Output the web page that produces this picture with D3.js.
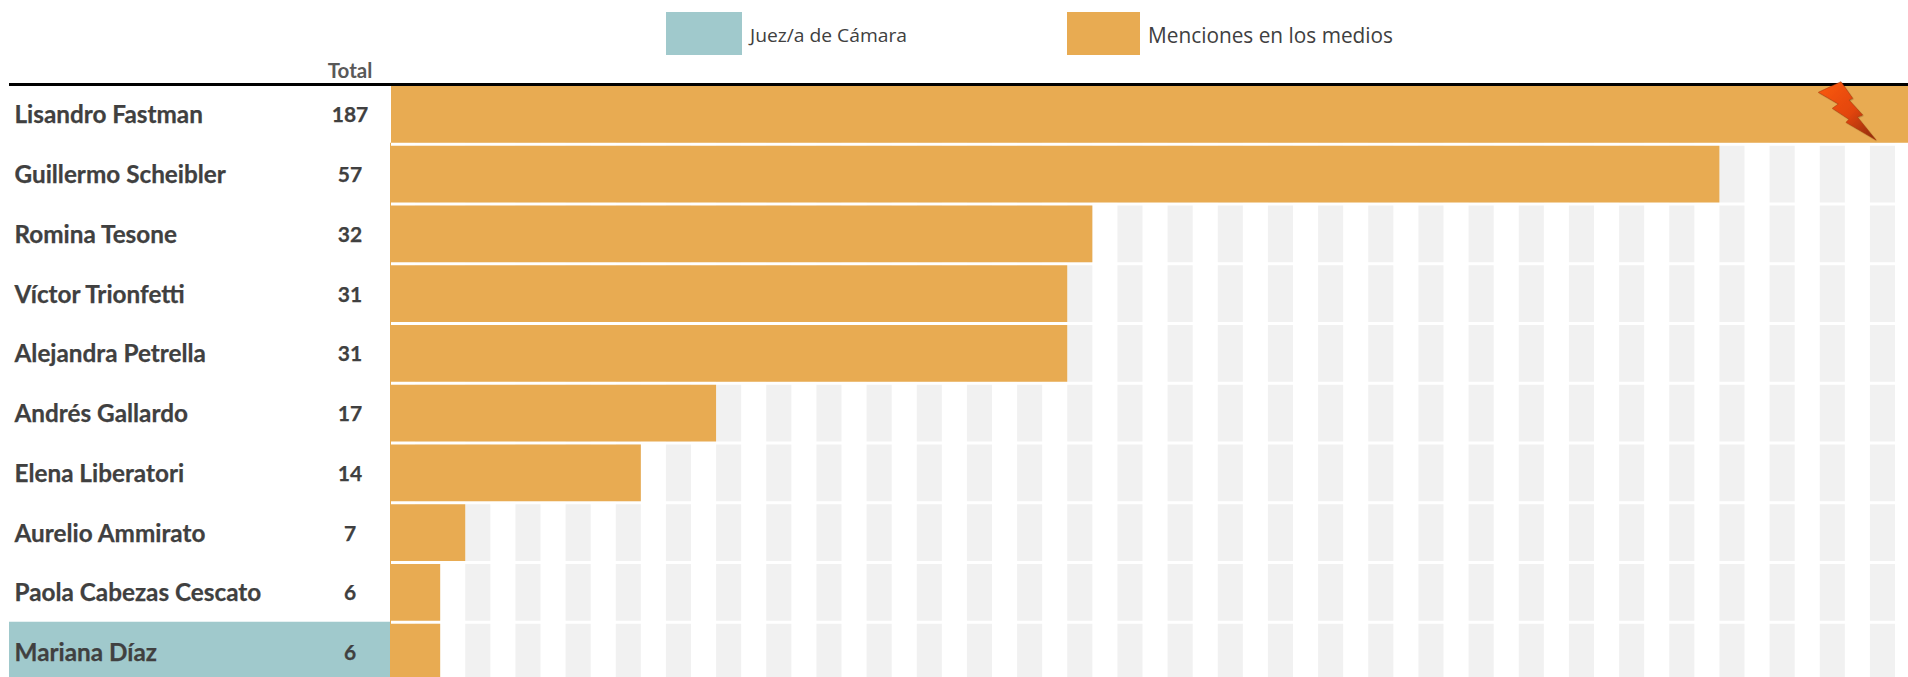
<!DOCTYPE html>
<html>
<head>
  <meta charset="utf-8">
  <title>Menciones en los medios</title>
  <script src="https://d3js.org/d3.v7.min.js"></script>
  <style>
    html, body { margin: 0; padding: 0; background: #fff; overflow: hidden; }
    svg { display: block; }
    .name { font-family: Lato, sans-serif; font-weight: 700; font-size: 24.3px; fill: #404040; stroke: #404040; stroke-width: 0.25px; }
    .total { font-family: Lato, sans-serif; font-weight: 700; font-size: 21px; fill: #404040; text-anchor: middle; stroke: #404040; stroke-width: 0.25px; }
    .totalHead { font-family: Lato, sans-serif; font-weight: 700; font-size: 20.5px; fill: #595959; text-anchor: middle; }
    .legendText { font-family: "Open Sans", sans-serif; fill: #404040; }
  </style>
</head>
<body>
  <svg id="chart" width="1908" height="677"></svg>
  <script>
    // values
    const names = ["Lisandro Fastman", "Guillermo Scheibler", "Romina Tesone", "Víctor Trionfetti",
                   "Alejandra Petrella", "Andrés Gallardo", "Elena Liberatori", "Aurelio Ammirato",
                   "Paola Cabezas Cescato", "Mariana Díaz"];
    const menciones = [187, 57, 32, 31, 31, 17, 14, 7, 6, 6];
    const camara = ["Mariana Díaz"];
    const legendLabels = ["Juez/a de Cámara", "Menciones en los medios"];

    const ORANGE = "#e8ab52", TEAL = "#a0c9cc", STRIPE = "#f1f1f1";

    const svg = d3.select("#chart");

    // axis is cut: it starts at 4 and the top bar runs off the page
    const x = d3.scaleLinear().domain([4, 64]).range([390, 1895]);
    const y = d3.scaleBand().domain(names).range([86, 680.5]).paddingInner(0.05);

    // the grey stripes, one for every odd value, in every row
    const stripeStarts = d3.range(5, 64, 2);
    const rows = svg.append("g").selectAll("g").data(names).join("g")
        .attr("transform", d => `translate(0,${y(d)})`);
    rows.selectAll("rect").data(stripeStarts).join("rect")
        .attr("x", d => x(d))
        .attr("width", d => x(d + 1) - x(d))
        .attr("height", y.bandwidth())
        .attr("fill", STRIPE);

    // highlight for the appeals judges
    svg.append("g").selectAll("rect").data(camara).join("rect")
        .attr("x", 9)
        .attr("y", d => y(d) - 2)
        .attr("width", x(4) - 9)
        .attr("height", y.bandwidth() + 2)
        .attr("fill", TEAL);

    // bars
    svg.append("g").selectAll("rect").data(names).join("rect")
        .attr("x", (d, i) => i == 0 ? x(4) + 1 : x(4))
        .attr("y", d => y(d))
        .attr("width", (d, i) => x(menciones[i]) - x(4))
        .attr("height", y.bandwidth())
        .attr("fill", ORANGE);
    svg.append("line")
        .attr("x1", x(4) + 0.5).attr("x2", x(4) + 0.5)
        .attr("y1", y(names[1]) - 3).attr("y2", 677)
        .attr("stroke", ORANGE);

    // labels
    svg.append("g").selectAll("text").data(names).join("text")
        .attr("class", "name")
        .attr("x", 14.5)
        .attr("y", d => y(d) + y.bandwidth() / 2 + 9)
        .text(d => d);
    svg.append("g").selectAll("text").data(names).join("text")
        .attr("class", "total")
        .attr("x", 350)
        .attr("y", d => y(d) + y.bandwidth() / 2 + 8)
        .text((d, i) => menciones[i]);
    svg.append("text").attr("class", "totalHead").attr("x", 350).attr("y", 78).text("Total");

    svg.append("rect").attr("x", 9).attr("y", 83).attr("width", 1899).attr("height", 3).attr("fill", "#000");

    // legend
    const legend = svg.append("g");
    legend.append("rect").attr("x", 666).attr("y", 12).attr("width", 76).attr("height", 43).attr("fill", TEAL);
    legend.append("rect").attr("x", 1067).attr("y", 12).attr("width", 73).attr("height", 43).attr("fill", ORANGE);
    legend.append("text").attr("class", "legendText").attr("x", 750).attr("y", 42)
        .style("font-size", "18px").attr("textLength", 157).attr("lengthAdjust", "spacingAndGlyphs")
        .text(legendLabels[0]);
    legend.append("text").attr("class", "legendText").attr("x", 1148).attr("y", 43)
        .style("font-size", "21px").attr("textLength", 245).attr("lengthAdjust", "spacingAndGlyphs")
        .text(legendLabels[1]);

    // lightning bolt marking the cut bar
    const defs = svg.append("defs");
    const grad = defs.append("linearGradient").attr("id", "bolt")
        .attr("x1", 0).attr("y1", 0).attr("x2", 1).attr("y2", 1);
    grad.append("stop").attr("offset", "0%").attr("stop-color", "#fb5a10");
    grad.append("stop").attr("offset", "55%").attr("stop-color", "#e2450a");
    grad.append("stop").attr("offset", "100%").attr("stop-color", "#8a2a08");
    const shadow = defs.append("filter").attr("id", "boltShadow")
        .attr("x", "-30%").attr("y", "-30%").attr("width", "170%").attr("height", "170%");
    shadow.append("feDropShadow").attr("dx", 2).attr("dy", 2).attr("stdDeviation", 2)
        .attr("flood-color", "#000").attr("flood-opacity", 0.3);
    svg.append("path")
        .attr("transform", "translate(1650,60) scale(0.3333)")
        .attr("d", "M505,97 L573,65 L608,115 L597,120 L638,165 L622,171 L678,240 L588,187 L597,178 L547,145 L565,132 Z")
        .attr("fill", "url(#bolt)")
        .attr("stroke", "#a83208")
        .attr("stroke-width", 1.5)
        .attr("filter", "url(#boltShadow)");
  </script>
</body>
</html>
